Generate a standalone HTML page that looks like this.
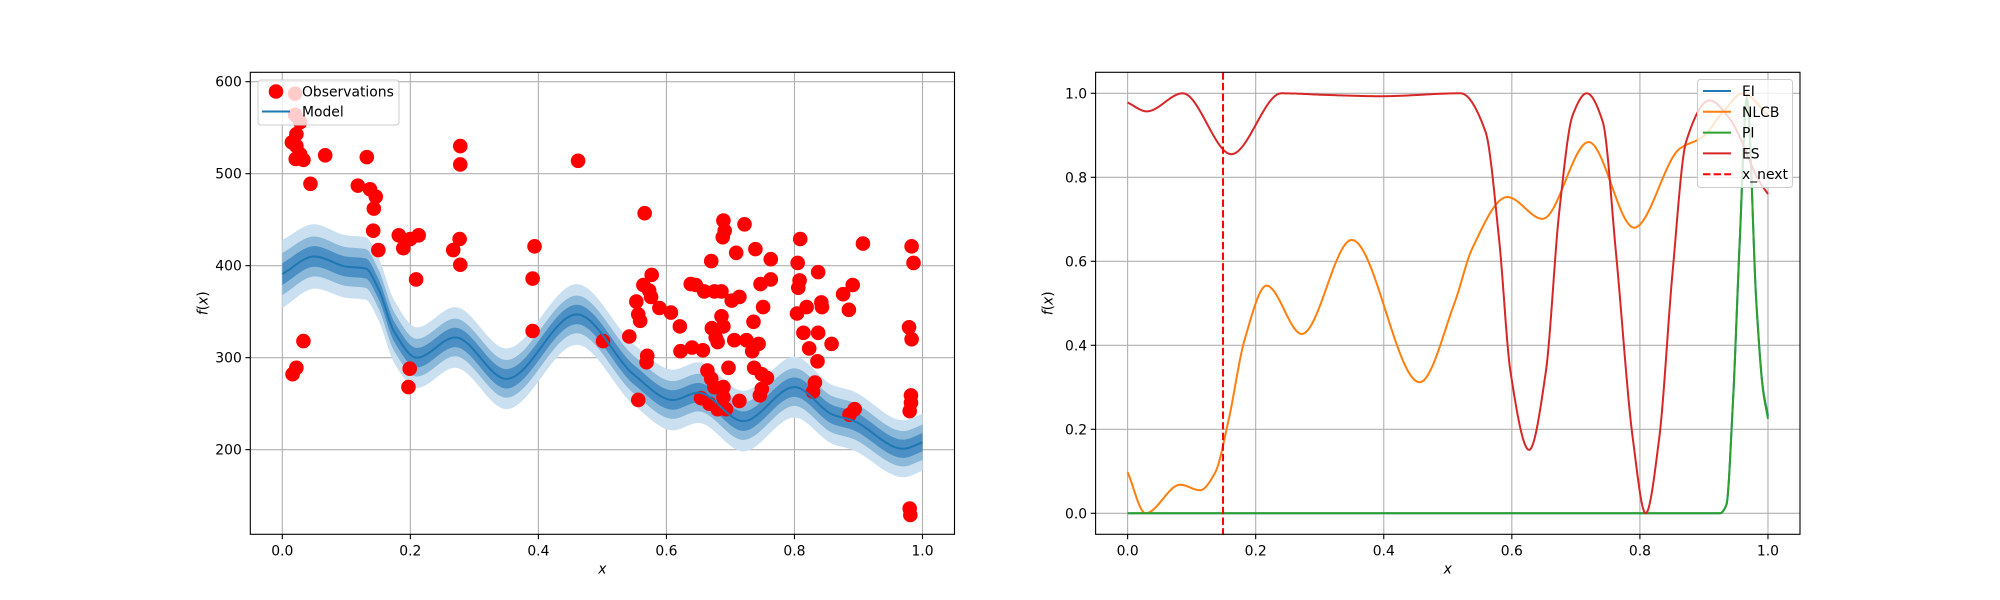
<!DOCTYPE html>
<html><head><meta charset="utf-8">
<style>
html,body{margin:0;padding:0;background:#fff;}
svg{display:block;font-family:"DejaVu Sans","Liberation Sans",sans-serif;}
</style></head>
<body>
<svg id="fig" width="2000" height="600" viewBox="0 0 2000 600" xmlns="http://www.w3.org/2000/svg">
<rect x="0" y="0" width="2000" height="600" fill="#fff"/>
<g id="left"></g>
<g id="right"></g>
</svg>
<script>
// ---------- data: left (model) ----------
const obsX = [0.020,0.020,0.028,0.022,0.015,0.022,0.028,0.021,0.033,0.067,0.044,0.033,0.016,0.022,
0.132,0.118,0.137,0.146,0.143,0.142,0.150,0.182,0.189,0.200,0.213,0.209,0.199,0.197,
0.278,0.278,0.267,0.277,0.278,0.462,0.394,0.391,0.391,0.501,0.542,0.566,0.577,0.564,0.573,0.576,
0.553,0.589,0.607,0.556,0.559,0.621,0.570,0.569,0.556,0.622,0.640,0.657,0.638,0.646,0.659,0.675,
0.686,0.670,0.689,0.691,0.688,0.709,0.722,0.702,0.714,0.686,0.671,0.689,0.677,0.680,0.706,0.697,
0.664,0.670,0.675,0.689,0.689,0.654,0.667,0.680,0.693,0.714,0.739,0.763,0.809,0.805,0.837,0.808,
0.806,0.763,0.747,0.751,0.736,0.804,0.819,0.842,0.843,0.876,0.891,0.885,0.907,0.983,0.986,0.979,
0.983,0.814,0.837,0.823,0.858,0.836,0.725,0.744,0.734,0.737,0.749,0.757,0.749,0.746,0.832,0.829,
0.982,0.982,0.980,0.894,0.886,0.980,0.981];
const obsY = [587,564,556,543,534,530,521,516,515,520,489,318,282,289,
518,487,483,475,462,438,417,433,419,429,433,385,288,268,
530,510,417,429,401,514,421,386,329,318,323,457,390,379,373,366,
361,354,349,347,340,334,302,295,254,307,311,308,380,379,372,372,
372,405,449,438,431,414,445,362,366,345,332,334,322,317,319,289,
286,277,268,268,257,256,250,244,244,253,418,407,429,403,393,384,
376,385,380,355,339,348,355,360,355,369,379,352,424,421,403,333,
320,327,327,310,315,296,319,315,307,289,282,278,266,259,273,263,
259,251,242,244,238,136,129];
const modelX = [0,0.05,0.1,0.13,0.15,0.175,0.21,0.27,0.35,0.46,0.55,0.61,0.65,0.72,0.8,0.86,0.89,0.97,1.0];
const modelMean = [391,410,399,397,375,328,300,322,277,347,281,254,262,231,268,238,232,201,208];
const modelSd = [37,35,34,34,34,34,33,33,33,33,33,33,33,33,33,32,32,31,31];
const leftXTicks = [0,0.2,0.4,0.6,0.8,1.0];
const leftXTickLabels = ["0.0","0.2","0.4","0.6","0.8","1.0"];
const leftYTicks = [200,300,400,500,600];
const leftYTickLabels = ["200","300","400","500","600"];

// ---------- data: right (acquisitions) ----------
const esX = [0,0.03,0.086,0.162,0.24,0.313,0.396,0.52,0.559,0.58,0.598,0.627,0.653,0.674,0.695,0.717,0.742,0.763,0.789,0.809,0.83,0.851,0.872,0.909,0.94,0.987,1.0];
const esY = [0.978,0.957,1.0,0.855,1.0,0.996,0.993,1.0,0.908,0.654,0.336,0.151,0.336,0.717,0.948,1.0,0.932,0.614,0.177,0.0,0.177,0.574,0.884,0.983,0.94,0.789,0.76];
const nlcbX = [0,0.028,0.082,0.113,0.137,0.157,0.183,0.217,0.272,0.35,0.456,0.511,0.538,0.593,0.648,0.72,0.791,0.862,0.898,0.93,0.961,1.0];
const nlcbY = [0.098,0.0,0.068,0.055,0.098,0.217,0.415,0.542,0.427,0.651,0.312,0.503,0.63,0.753,0.701,0.884,0.68,0.868,0.896,0.956,1.0,0.948];
const piX = [0,0.5,0.925,0.935,0.945,0.956,0.967,0.982,0.992,1.0];
const piY = [0,0,0,0.02,0.257,0.654,0.99,0.495,0.296,0.225];
const eiX = [0,0.5,0.925,0.935,0.945,0.956,0.967,0.982,0.992,1.0];
const eiY = [0,0,0,0.02,0.255,0.65,0.985,0.5,0.3,0.232];
const xNext = [0.149];
const rightXTicks = [0,0.2,0.4,0.6,0.8,1.0];
const rightXTickLabels = ["0.0","0.2","0.4","0.6","0.8","1.0"];
const rightYTicks = [0,0.2,0.4,0.6,0.8,1.0];
const rightYTickLabels = ["0.0","0.2","0.4","0.6","0.8","1.0"];

const NS = "http://www.w3.org/2000/svg";
function mk(parent, tag, attrs){const e=document.createElementNS(NS,tag);for(const k in attrs)e.setAttribute(k,attrs[k]);parent.appendChild(e);return e;}

const L = {x0:250.3, x1:954.5, y0:72.3, y1:534.3, xmin:-0.05, xmax:1.05, ymin:108, ymax:610.2};
const R = {x0:1095.6, x1:1800, y0:72.3, y1:534.3, xmin:-0.05, xmax:1.05, ymin:-0.05, ymax:1.05};
function sx(A,v){return A.x0+(v-A.xmin)/(A.xmax-A.xmin)*(A.x1-A.x0);}
function sy(A,v){return A.y1-(v-A.ymin)/(A.ymax-A.ymin)*(A.y1-A.y0);}

// monotone cubic (Fritsch-Carlson) sampling
function smoothPts(xs,ys,n){
  const k=xs.length, d=[], m=new Array(k).fill(0);
  for(let i=0;i<k-1;i++) d.push((ys[i+1]-ys[i])/(xs[i+1]-xs[i]));
  m[0]=d[0]; m[k-1]=d[k-2];
  for(let i=1;i<k-1;i++){
    if(d[i-1]*d[i]<=0) m[i]=0;
    else {const h0=xs[i]-xs[i-1],h1=xs[i+1]-xs[i];const w1=2*h1+h0,w2=h1+2*h0;m[i]=(w1+w2)/(w1/d[i-1]+w2/d[i]);}
  }
  const out=[];
  for(let i=0;i<k-1;i++){
    const h=xs[i+1]-xs[i];
    for(let j=0;j<n;j++){const t=j/n,t2=t*t,t3=t2*t;
      const y=(2*t3-3*t2+1)*ys[i]+(t3-2*t2+t)*h*m[i]+(-2*t3+3*t2)*ys[i+1]+(t3-t2)*h*m[i+1];
      out.push([xs[i]+t*h,y]);}
  }
  out.push([xs[k-1],ys[k-1]]);
  return out;
}
function pathFrom(A,pts){return pts.map((p,i)=>(i?"L":"M")+sx(A,p[0]).toFixed(2)+","+sy(A,p[1]).toFixed(2)).join("");}

function drawAxesBase(g,A,xt,yt,prefix){
  const grid=mk(g,"g",{});
  
  
  xt.forEach(v=>{mk(grid,"line",{x1:sx(A,v),x2:sx(A,v),y1:A.y0,y2:A.y1,stroke:"#b0b0b0","stroke-width":1.1});});
  yt.forEach(v=>{mk(grid,"line",{x1:A.x0,x2:A.x1,y1:sy(A,v),y2:sy(A,v),stroke:"#b0b0b0","stroke-width":1.1});});
}
function drawAxesFrame(g,A,xt,xtl,yt,ytl,prefix){
  const fr=mk(g,"rect",{x:A.x0,y:A.y0,width:A.x1-A.x0,height:A.y1-A.y0,fill:"none",stroke:"#000","stroke-width":1.1});
  
  
  xt.forEach((v,i)=>{const x=sx(A,v);
    mk(g,"line",{x1:x,x2:x,y1:A.y1,y2:A.y1+4.9,stroke:"#000","stroke-width":1.1});
    const t=mk(g,"text",{x:x,y:A.y1+21,"font-size":"13.9","text-anchor":"middle",fill:"#000"});t.textContent=xtl[i];
    
    });
  yt.forEach((v,i)=>{const y=sy(A,v);
    mk(g,"line",{x1:A.x0-4.9,x2:A.x0,y1:y,y2:y,stroke:"#000","stroke-width":1.1});
    const t=mk(g,"text",{x:A.x0-8.5,y:y+5,"font-size":"13.9","text-anchor":"end",fill:"#000"});t.textContent=ytl[i];
    
    });
  const xl=mk(g,"text",{x:(A.x0+A.x1)/2,y:A.y1+39,"font-size":"13.9","text-anchor":"middle","font-style":"italic"});xl.textContent="x";
  
  
  const yx=A.x0-43, yy=(A.y0+A.y1)/2;
  const yl=mk(g,"text",{x:yx,y:yy,"font-size":"13.9","text-anchor":"middle",transform:`rotate(-90 ${yx} ${yy})`});
  yl.innerHTML='<tspan font-style="italic">f</tspan>(<tspan font-style="italic">x</tspan>)';
  
  
}

// ---- left plot ----
const gl=document.getElementById("left");
drawAxesBase(gl,L,leftXTicks,leftYTicks,"left");
const meanPts=smoothPts(modelX,modelMean,30);
const sdPts=smoothPts(modelX,modelSd,30);
const bands=[[1.0,"#cadff0","outer"],[0.62,"#8cb8da","middle"],[0.32,"#4b8fc4","inner"]];
bands.forEach(b=>{
  const up=meanPts.map((p,i)=>[p[0],p[1]+b[0]*sdPts[i][1]]);
  const dn=meanPts.map((p,i)=>[p[0],p[1]-b[0]*sdPts[i][1]]).reverse();
  const d=pathFrom(L,up)+pathFrom(L,dn).replace(/^M/,"L")+"Z";
  const p=mk(gl,"path",{d:d,fill:b[1],stroke:"none"});
  
  
});
const obsG=mk(gl,"g",{});


obsX.forEach((x,i)=>{
  const c=mk(obsG,"circle",{cx:sx(L,x),cy:sy(L,obsY[i]),r:7.3,fill:"#ff0000"});
  
  
});
const ml=mk(gl,"path",{d:pathFrom(L,meanPts),fill:"none",stroke:"#1f77b4","stroke-width":2});


drawAxesFrame(gl,L,leftXTicks,leftXTickLabels,leftYTicks,leftYTickLabels,"left");
const lg=mk(gl,"g",{});


mk(lg,"rect",{x:258,y:80,width:141,height:45,rx:3,fill:"#fff","fill-opacity":0.8,stroke:"#cccccc","stroke-width":1});
const le1=mk(lg,"circle",{cx:276,cy:91.5,r:7.3,fill:"#ff0000"});


const lt1=mk(lg,"text",{x:302,y:96.5,"font-size":"13.9"});lt1.textContent="Observations";


mk(lg,"line",{x1:262,x2:290,y1:111.5,y2:111.5,stroke:"#1f77b4","stroke-width":2});
const lt2=mk(lg,"text",{x:302,y:116.5,"font-size":"13.9"});lt2.textContent="Model";



// ---- right plot ----
const gr=document.getElementById("right");
drawAxesBase(gr,R,rightXTicks,rightYTicks,"right");
function series(xs,ys,color,name,n){
  const p=mk(gr,"path",{d:pathFrom(R,smoothPts(xs,ys,n)),fill:"none",stroke:color,"stroke-width":2});
  
  
}
series(eiX,eiY,"#1f77b4","ei-line",20);
series(nlcbX,nlcbY,"#ff7f0e","nlcb-line",24);
series(piX,piY,"#2ca02c","pi-line",20);
series(esX,esY,"#d62728","es-line",24);
const xn=mk(gr,"line",{x1:sx(R,xNext[0]),x2:sx(R,xNext[0]),y1:R.y0,y2:R.y1,stroke:"#ff0000","stroke-width":2,"stroke-dasharray":"7.4,3.2"});


drawAxesFrame(gr,R,rightXTicks,rightXTickLabels,rightYTicks,rightYTickLabels,"right");
const rg=mk(gr,"g",{});


mk(rg,"rect",{x:1697.5,y:79.5,width:95,height:108,rx:3,fill:"#fff","fill-opacity":0.8,stroke:"#cccccc","stroke-width":1});
const entries=[["EI","#1f77b4",""],["NLCB","#ff7f0e",""],["PI","#2ca02c",""],["ES","#d62728",""],["x_next","#ff0000","7.4,3.2"]];
entries.forEach((e,i)=>{
  const y=91+i*20.8;
  const ln=mk(rg,"line",{x1:1703,x2:1731,y1:y,y2:y,stroke:e[1],"stroke-width":2});
  if(e[2])ln.setAttribute("stroke-dasharray",e[2]);
  
  
  const t=mk(rg,"text",{x:1742,y:y+5,"font-size":"13.9"});t.textContent=e[0];
  
  
});
</script>
</body></html>
